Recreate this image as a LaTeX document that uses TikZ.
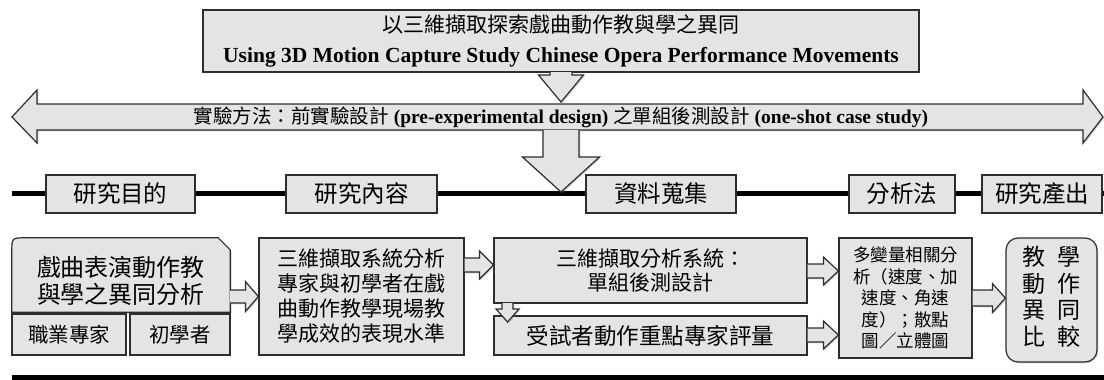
\documentclass[tikz,border=0pt]{standalone}
\usepackage{fontspec}
\setmainfont{Liberation Serif}
\newfontfamily\cjk{Noto Sans CJK TC}
\usetikzlibrary{shadows,calc}
\definecolor{boxfill}{RGB}{228,228,228}
\definecolor{boxline}{RGB}{45,45,45}
\newcommand\rblock[6]{% #1 from node, #2 to node, #3 y, #4 head length, #5 shaft half, #6 head half
  \path (#1.east |- 0,#3) coordinate (bs) (#2.west |- 0,#3) coordinate (bt);
  \draw[fat] ($(bs)+(0,-#5)$) -- ($(bt)+(-#4,-#5)$) -- ($(bt)+(-#4,-#6)$) -- (bt)
    -- ($(bt)+(-#4,#6)$) -- ($(bt)+(-#4,#5)$) -- ($(bs)+(0,#5)$);}
\newcommand\dblock[6]{% #1 x, #2 y start, #3 y head base, #4 y tip, #5 shaft half, #6 head half
  \draw[fat] (#1-#5,#2) -- (#1-#5,#3) -- (#1-#6,#3) -- (#1,#4) -- (#1+#6,#3) -- (#1+#5,#3) -- (#1+#5,#2);}
\begin{document}
\begin{tikzpicture}[x=1pt,y=-1pt,
  shad/.style={drop shadow={shadow xshift=1.3pt,shadow yshift=-1.3pt,opacity=0.35}},
  box/.style={draw=boxline, fill=boxfill, line width=1.2pt, shad, inner sep=0pt, align=center},
  fat/.style={draw=boxline, fill=boxfill, line width=1.2pt, line join=miter, shad},
  head/.style={box, minimum height=38pt, font={\cjk\fontsize{23.5}{26}\selectfont}},
]
\useasboundingbox (0,0) rectangle (1104,380);

% title
\node[box, minimum width=716pt, minimum height=62pt, font={\fontsize{21.5}{30}\selectfont}] (title) at (561,41)
  {{\cjk\fontsize{21}{30}\selectfont 以三維擷取探索戲曲動作教與學之異同}\\
   \textbf{Using 3D Motion Capture Study Chinese Opera Performance Movements}};

% double arrow (experimental method)
\draw[fat] (12,117) -- (37,90) -- (37,104) -- (1083,104) -- (1083,90) -- (1103,117)
  -- (1083,143) -- (1083,130) -- (37,130) -- (37,143) -- cycle;
\node[font={\fontsize{19.5}{22}\selectfont}] (method) at (561,117)
  {{\cjk 實驗方法：前實驗設計} \textbf{(pre-experimental design)} {\cjk 之單組後測設計} \textbf{(one-shot case study)}};

% arrow title -> method
\dblock{561}{72}{75}{102}{11}{22.5}

% timeline
\draw[line width=5pt] (12,193) -- (1104,193);

% big arrow method -> timeline
\dblock{561}{130}{157}{192}{18}{38.5}

% header boxes
\node[head, minimum width=149pt] (goal) at (120.5,194) {研究目的};
\node[head, minimum width=151pt] (content) at (361.5,194) {研究內容};
\node[head, minimum width=150pt] (collect) at (661,194) {資料蒐集};
\node[head, minimum width=106pt] (analysis) at (902,194) {分析法};
\node[head, minimum width=120pt] (output) at (1042,194) {研究產出};

% body
\node[minimum width=218pt, minimum height=74pt, inner sep=0pt] (opera) at (121,275) {};
\draw[fat] (opera.south west) -- ($(opera.north west)+(0,14)$) .. controls (opera.north west) .. ($(opera.north west)+(14,0)$)
  -- ($(opera.north east)+(-12,0)$) -- ($(opera.north east)+(0,12)$) -- (opera.south east) -- cycle;
\node[align=center, inner sep=0pt, font={\cjk\fontsize{24}{27}\selectfont}] (operatext) at (121,281)
  {戲曲表演動作教\\與學之異同分析};
\node[box, minimum width=114pt, minimum height=41pt, font={\cjk\fontsize{20.5}{23}\selectfont}] (expert) at (69,334.5) {職業專家};
\node[box, minimum width=100pt, minimum height=41pt, font={\cjk\fontsize{20.5}{23}\selectfont}] (novice) at (180,334.5) {初學者};

\node[box, minimum width=205pt, minimum height=117pt, font={\cjk\fontsize{21}{25}\selectfont}] (study) at (361.5,296.5)
  {三維擷取系統分析\\專家與初學者在戲\\曲動作教學現場教\\學成效的表現水準};

\node[box, minimum width=313pt, minimum height=65pt, font={\cjk\fontsize{21}{23.5}\selectfont}] (system) at (650.5,270.5)
  {三維擷取分析系統：\\單組後測設計};
\node[box, minimum width=313pt, minimum height=39pt, font={\cjk\fontsize{22.5}{25}\selectfont}] (rating) at (650.5,335.5)
  {受試者動作重點專家評量};
\dblock{507.5}{303}{309}{322}{5.5}{11.5}

\node[box, minimum width=133pt, minimum height=120pt, font={\cjk\fontsize{17.5}{21.5}\selectfont}] (stats) at (905.5,298)
  {多變量相關分\\析（速度、加\\速度、角速\\度）；散點\\圖／立體圖};

\node[box, rounded corners=12pt, minimum width=91pt, minimum height=124pt, font={\cjk\fontsize{23}{25.5}\selectfont}] (result) at (1051.5,300)
  {\begin{tabular}{@{}c@{\hspace{12pt}}c@{}}教&學\\動&作\\異&同\\比&較\end{tabular}};

% block arrows between boxes
\rblock{opera}{study}{296.5}{13}{6.5}{15}
\rblock{study}{system}{265}{14}{7}{14}
\rblock{system}{stats}{271}{15}{7}{14}
\rblock{rating}{stats}{335}{15}{7}{14}
\rblock{stats}{result}{298}{13}{8}{14.5}

% bottom bar
\fill[black] (12,374.5) rectangle (1104,380);
\end{tikzpicture}
\end{document}
